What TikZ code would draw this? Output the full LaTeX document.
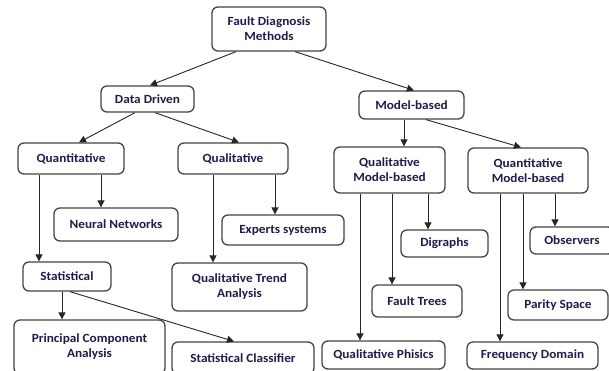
\documentclass[tikz,border=0pt]{standalone}
\usepackage{fontspec}
\setmainfont{Carlito}[FakeStretch=1.06]
\usetikzlibrary{arrows.meta,calc}
\definecolor{txt}{HTML}{1C1E48}
\definecolor{brd}{HTML}{454545}
\tikzset{
  box/.style={draw=brd, line width=1.3pt, rounded corners=6pt, fill=white,
    align=center, inner sep=1pt, text=txt,
    font=\fontsize{12.5}{15}\selectfont\bfseries},
  arr/.style={draw=black!85, line width=0.9pt, -{Triangle[length=7pt,width=7pt]}},
}
\begin{document}
\begin{tikzpicture}[x=1pt,y=-1pt]
\useasboundingbox (0,0) rectangle (609,370);
\begin{scope}
\clip (0,0) rectangle (609,370);
\node[box, minimum width=114pt, minimum height=44pt] (fdm) at (269,29) {Fault Diagnosis\\Methods};
\node[box, minimum width=93pt, minimum height=26pt] (dd) at (147.5,99) {Data Driven};
\node[box, minimum width=105pt, minimum height=28pt] (mb) at (411.5,105) {Model-based};
\node[box, minimum width=106pt, minimum height=31pt] (quant) at (71,158.5) {Quantitative};
\node[box, minimum width=110pt, minimum height=31pt] (qual) at (233,158.5) {Qualitative};
\node[box, minimum width=111pt, minimum height=46pt] (qualmb) at (389.5,170) {Qualitative\\Model-based};
\node[box, minimum width=120pt, minimum height=45pt] (quantmb) at (528,170.5) {Quantitative\\Model-based};
\node[box, minimum width=124pt, minimum height=33pt] (nn) at (116,224.5) {Neural Networks};
\node[box, minimum width=122pt, minimum height=30pt] (exp) at (283,230) {Experts systems};
\node[box, minimum width=87pt, minimum height=27pt] (dig) at (444.5,243.5) {Digraphs};
\node[box, minimum width=84pt, minimum height=27pt] (obs) at (572,240.5) {Observers};
\node[box, minimum width=88pt, minimum height=29pt] (stat) at (67,276.5) {Statistical};
\node[box, minimum width=135pt, minimum height=48pt] (qta) at (239.5,287) {Qualitative Trend\\Analysis};
\node[box, minimum width=90pt, minimum height=32pt] (ft) at (417,301) {Fault Trees};
\node[box, minimum width=100pt, minimum height=30pt] (ps) at (558,305) {Parity Space};
\node[box, minimum width=151pt, minimum height=54pt] (pca) at (89.5,347) {Principal Component\\Analysis};
\node[box, minimum width=142pt, minimum height=32pt] (sc) at (243,358) {Statistical Classifier};
\node[box, minimum width=123pt, minimum height=28pt] (qp) at (383.5,355) {Qualitative Phisics};
\node[box, minimum width=131pt, minimum height=27pt] (fd) at (532.5,355.5) {Frequency Domain};

\coordinate (s1) at ($(mb.south)+(-7.5,0)$);
\coordinate (s2) at ($(quant.south)+(30,0)$);
\coordinate (s3) at ($(quant.south)+(-32,0)$);
\coordinate (s4) at ($(qual.south)+(42,0)$);
\coordinate (s5) at ($(qual.south)+(-20,0)$);
\coordinate (s6) at ($(qualmb.south)+(-29.5,0)$);
\coordinate (s7) at ($(qualmb.south)+(2.5,0)$);
\coordinate (s8) at ($(qualmb.south)+(38.5,0)$);
\coordinate (s9) at ($(quantmb.south)+(-28,0)$);
\coordinate (s10) at ($(quantmb.south)+(-5,0)$);
\coordinate (s11) at ($(quantmb.south)+(27,0)$);
\coordinate (s12) at ($(stat.south)+(-5,0)$);

\draw[arr] ($(fdm.south)+(-33,0)$) -- ($(dd.north)+(2.5,0)$);
\draw[arr] ($(fdm.south)+(26,0)$) -- ($(mb.north)+(2.5,0)$);
\draw[arr] ($(dd.south)+(-12.5,0)$) -- ($(quant.north)+(8,0)$);
\draw[arr] ($(dd.south)+(7.5,0)$) -- ($(qual.north)+(6,0)$);
\draw[arr] (s1) -- (s1 |- qualmb.north);
\draw[arr] ($(mb.south)+(14.5,0)$) -- ($(quantmb.north)+(-7,0)$);
\draw[arr] (s2) -- (s2 |- nn.north);
\draw[arr] (s3) -- (s3 |- stat.north);
\draw[arr] (s4) -- (s4 |- exp.north);
\draw[arr] (s5) -- (s5 |- qta.north);
\draw[arr] (s6) -- (s6 |- qp.north);
\draw[arr] (s7) -- (s7 |- ft.north);
\draw[arr] (s8) -- (s8 |- dig.north);
\draw[arr] (s9) -- (s9 |- fd.north);
\draw[arr] (s10) -- (s10 |- ps.north);
\draw[arr] (s11) -- (s11 |- obs.north);
\draw[arr] (s12) -- (s12 |- pca.north);
\draw[arr] ($(stat.south)+(3,0)$) -- ($(sc.north)+(-9,0)$);
\end{scope}
\end{tikzpicture}
\end{document}
